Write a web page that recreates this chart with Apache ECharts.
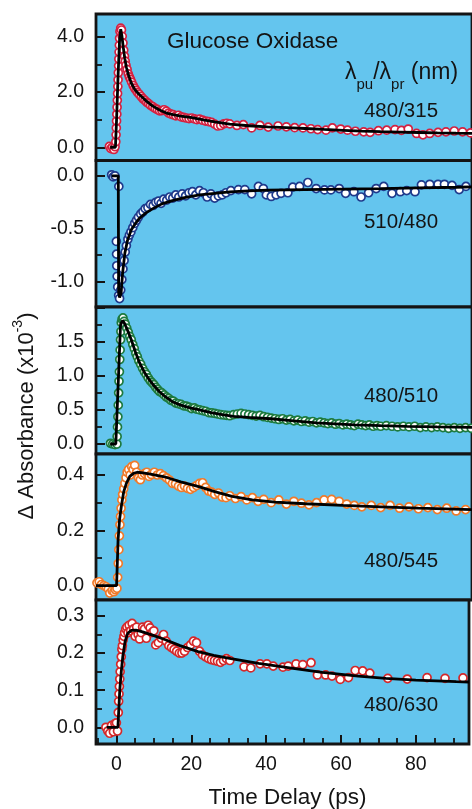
<!DOCTYPE html>
<html><head><meta charset="utf-8">
<script src="https://cdn.jsdelivr.net/npm/echarts@6/dist/echarts.min.js"></script>
<style>html,body{margin:0;padding:0;background:#fff}#c{width:472px;height:809px}</style>
</head><body><div id="c"></div><script>
// ---------- data (time in ps, ΔA in 1e-3) ----------
const X_LABELS = [0, 20, 40, 60, 80];
const Y_LABELS_1 = [0, 2, 4];
const Y_LABELS_2 = [0, -0.5, -1];
const Y_LABELS_3 = [0, 0.5, 1, 1.5];
const Y_LABELS_4 = [0, 0.2, 0.4];
const Y_LABELS_5 = [0, 0.1, 0.2, 0.3];
const TAGS = ['480/315', '510/480', '480/510', '480/545', '480/630'];

const data315 = [[-1.9,0.03],[-1.5,-0.05],[-1.1,0.0],[-0.7,-0.08],[-0.4,0.02],
[-0.2,0.2],[-0.13,0.45],[-0.06,0.7],[0,0.95],[0.07,1.2],[0.14,1.45],[0.2,1.7],[0.27,1.95],[0.34,2.2],[0.4,2.45],[0.47,2.7],[0.54,2.95],[0.6,3.2],[0.67,3.45],[0.74,3.7],[0.8,3.95],[0.9,4.2],
[1.1,4.32],[1.3,4.25],[1.5,4.02],[1.7,3.78],[1.9,3.52],[2.1,3.3],[2.3,3.12],[2.5,2.97],[2.8,2.82],[3.1,2.66],[3.4,2.55],[3.7,2.46],[4.0,2.36],[4.4,2.24],[4.8,2.14],[5.2,2.06],[5.6,1.98],[6.0,1.92],[6.5,1.84],[7.0,1.76],[7.5,1.7],[8.0,1.63],[8.5,1.58],[9.0,1.52],[9.6,1.47],[10.2,1.41],[10.8,1.37],[11.4,1.32],[12.0,1.33],[12.6,1.36],[13.2,1.31],[13.8,1.24],[14.4,1.2],[15.0,1.18],[15.7,1.14],[16.4,1.16],[17.1,1.1],[17.8,1.08],[18.5,1.06],[19.2,1.04],[19.9,1.06],[20.6,1.03],[21.3,1.0],[22.0,1.02],[22.8,0.98],[23.6,0.95],[24.4,0.93],[25.2,0.9],[26.0,0.84],[26.8,0.77],[27.6,0.79],[28.4,0.85],[29.2,0.87],
[30.0,0.85],[31.9,0.79],[33.6,0.82],[35.8,0.7],[38.0,0.79],[40.2,0.73],[42.8,0.77],[45.0,0.74],[47.2,0.71],[49.4,0.7],[51.5,0.67],[53.3,0.64],[55.5,0.62],[57.2,0.7],[59.4,0.66],[61.2,0.62],[63.3,0.58],[65.5,0.56],[67.2,0.54],[69.4,0.6],[71.6,0.62],[73.8,0.64],[75.5,0.61],[77.3,0.66],[79.5,0.5],[81.2,0.45],[83.0,0.5],[85.2,0.54],[87.3,0.56],[89.5,0.59],[91.7,0.56],[93.8,0.52]];
const fit315 = [[-1.7,0],[-0.3,0],[0.0,1.0],[0.4,2.6],[0.8,3.9],[1.1,4.28],[1.4,4.05],[1.8,3.6],[2.2,3.2],[2.6,2.9],[3.2,2.6],[3.9,2.33],[4.8,2.1],[5.8,1.94],[6.9,1.8],[8.0,1.66],[9.5,1.5],[11.4,1.35],[13.2,1.24],[15.0,1.18],[17.0,1.13],[20.0,1.07],[23.0,0.99],[26.0,0.92],[30.0,0.84],[35.0,0.78],[40.0,0.74],[45.0,0.71],[50.0,0.68],[55.0,0.645],[60.0,0.615],[65.0,0.585],[70.0,0.565],[75.0,0.55],[80.0,0.535],[85.0,0.52],[90.0,0.51],[94.2,0.505]];

const data480 = [[-1.3,0.01],[-0.9,-0.01],[-0.4,0.0],[0.6,-0.1],
[-0.05,-0.62],[0.0,-0.74],[0.05,-0.85],[0.15,-0.95],[0.3,-1.05],[0.55,-1.13],[0.8,-1.16],
[1.1,-1.08],[1.4,-0.98],[1.7,-0.88],[2.0,-0.8],[2.3,-0.72],[2.6,-0.66],[3.0,-0.6],[3.4,-0.56],[3.8,-0.53],[4.3,-0.49],[4.8,-0.45],[5.3,-0.42],[5.8,-0.39],[6.4,-0.36],[7.0,-0.34],[7.6,-0.31],[8.3,-0.3],[9.0,-0.27],[9.7,-0.28],[10.4,-0.25],[11.1,-0.24],[11.8,-0.26],[12.5,-0.22],[13.3,-0.23],[14.1,-0.2],[14.9,-0.21],[15.7,-0.18],[16.5,-0.2],[17.4,-0.17],[18.3,-0.19],[19.2,-0.16],[20.1,-0.15],[21.0,-0.18],[22.0,-0.14],[23.0,-0.16],[24.0,-0.2],[25.0,-0.17],[26.0,-0.21],[27.0,-0.19],[28.0,-0.18],[29.0,-0.16],[30.3,-0.14],
[32.3,-0.13],[34.0,-0.13],[35.8,-0.17],[37.6,-0.1],[38.9,-0.12],[39.7,-0.18],[41.0,-0.195],[42.3,-0.18],[43.6,-0.165],[45.4,-0.16],[46.7,-0.107],[48.5,-0.1],[50.7,-0.063],[52.9,-0.12],[55.1,-0.133],[56.8,-0.133],[59.0,-0.12],[60.7,-0.165],[62.9,-0.15],[64.8,-0.2],[66.8,-0.16],[68.8,-0.12],[70.8,-0.1],[73.0,-0.165],[75.2,-0.15],[76.9,-0.14],[79.1,-0.15],[80.8,-0.085],[83.0,-0.08],[85.2,-0.08],[86.9,-0.08],[88.9,-0.09],[90.8,-0.13],[92.6,-0.1]];
const fit480 = [[-1.3,0],[0.45,0],[0.55,-1.1],[0.8,-1.15],[1.2,-1.11],[1.6,-0.92],[2.2,-0.73],[2.9,-0.61],[3.9,-0.51],[5.0,-0.45],[6.1,-0.4],[7.8,-0.35],[9.6,-0.31],[12.0,-0.265],[14.8,-0.235],[18.0,-0.205],[22.0,-0.18],[26.0,-0.165],[30.0,-0.152],[35.0,-0.142],[40.0,-0.136],[50.0,-0.13],[60.0,-0.125],[70.0,-0.12],[80.0,-0.114],[90.0,-0.108],[94.2,-0.105]];

const data510 = [[-1.6,0.01],[-1.0,0.0],[-0.4,-0.01],[0.1,0.0],
[0.15,0.11],[0.25,0.25],[0.35,0.4],[0.45,0.57],[0.55,0.75],[0.65,0.92],[0.75,1.06],[0.85,1.24],[0.95,1.38],[1.05,1.53],[1.15,1.65],[1.25,1.78],
[1.45,1.83],[1.7,1.85],[2.0,1.8],
[2.3,1.76],[2.7,1.7],[3.1,1.64],[3.5,1.58],[3.9,1.53],[4.3,1.46],[4.7,1.4],[5.1,1.33],[5.5,1.28],[5.9,1.22],[6.4,1.17],[6.9,1.11],[7.4,1.06],[7.9,1.02],[8.4,0.97],[8.9,0.93],[9.4,0.9],[9.9,0.87],[10.4,0.83],[10.9,0.8],[11.4,0.77],[12.0,0.75],[12.6,0.72],[13.2,0.69],[13.8,0.67],[14.4,0.64],[15.0,0.63],[15.7,0.6],[16.4,0.59],[17.1,0.58],[17.8,0.56],[18.5,0.555],[19.2,0.54],[19.9,0.52],[20.6,0.53],[21.3,0.51],[22.0,0.5],[22.8,0.49],[23.6,0.48],[24.4,0.46],[25.2,0.455],[26.0,0.45],[26.8,0.44],[27.6,0.43],[28.4,0.425],[29.2,0.42],[30.0,0.415],
[31.0,0.43],[32.0,0.44],[33.0,0.45],[34.0,0.44],[35.0,0.43],[36.0,0.42],[37.0,0.41],[38.0,0.42],[39.0,0.4],[40.0,0.39],[41.0,0.38],[42.0,0.37],[43.0,0.36],[44.0,0.37],[45.0,0.35],[46.0,0.36],[47.0,0.34],[48.0,0.35],[49.0,0.33],[50.0,0.34],[51.0,0.32],[52.0,0.33],[53.0,0.31],[54.0,0.32],[55.0,0.31],[56.0,0.3],[57.0,0.31],[58.0,0.29],[59.0,0.3],[60.0,0.28],[61.0,0.29],[62.0,0.28],[63.0,0.27],[64.0,0.29],[65.0,0.28],[66.0,0.27],[67.0,0.28],[68.0,0.26],[69.0,0.27],[70.0,0.26],[71.5,0.27],[73.0,0.26],[74.5,0.25],[76.0,0.26],[77.5,0.25],[79.0,0.26],[80.5,0.24],[82.0,0.25],[83.5,0.24],[85.0,0.25],[86.5,0.24],[88.0,0.23],[89.5,0.24],[91.0,0.23],[92.5,0.24],[94.0,0.23]];
const fit510 = [[-1.7,0],[-0.2,0],[1.05,1.75],[1.6,1.81],[2.0,1.78],[2.5,1.72],[3.2,1.63],[3.9,1.53],[5.0,1.35],[6.1,1.19],[7.4,1.05],[8.7,0.94],[10.0,0.85],[11.3,0.77],[13.0,0.69],[14.8,0.62],[17.0,0.57],[19.5,0.53],[22.0,0.5],[25.0,0.46],[28.0,0.43],[31.0,0.405],[35.0,0.39],[41.0,0.37],[47.0,0.34],[53.0,0.31],[58.0,0.295],[63.0,0.28],[70.0,0.268],[77.0,0.258],[85.0,0.25],[94.2,0.243]];

const data545 = [[-5.2,0.01],[-4.6,0.014],[-4.0,0.004],[-3.4,0.0],[-2.8,-0.004],[-2.2,-0.012],[-1.8,-0.027],[-1.2,-0.018],[-0.7,-0.022],[-0.3,-0.015],[0.1,-0.01],
[0.3,0.03],[0.45,0.08],[0.6,0.13],[0.75,0.18],[0.9,0.22],[1.05,0.25],[1.2,0.28],[1.4,0.31],[1.6,0.33],[1.9,0.35],[2.2,0.37],[2.5,0.39],[2.8,0.41],[3.2,0.42],[3.6,0.4],[4.0,0.43],[4.4,0.42],[4.8,0.435],[5.3,0.41],[5.8,0.39],[6.3,0.383],[6.8,0.4],[7.4,0.405],[8.0,0.41],[8.6,0.395],[9.2,0.402],[10.0,0.41],[10.8,0.4],[11.6,0.405],[12.4,0.398],[13.2,0.39],[14.0,0.382],[14.8,0.37],[15.6,0.368],[16.4,0.36],[17.2,0.355],[18.0,0.36],[18.8,0.352],[19.6,0.348],[20.4,0.355],[21.2,0.362],[22.0,0.37],[22.8,0.372],[23.6,0.355],[24.4,0.342],[25.2,0.338],[26.0,0.33],[27.0,0.335],[28.0,0.32],[29.0,0.318],[30.0,0.325],
[31.5,0.315],[33.0,0.322],[34.5,0.31],[36.0,0.318],[37.5,0.305],[39.0,0.312],[41.0,0.3],[43.0,0.31],[45.0,0.295],[47.0,0.305],[49.0,0.298],[51.0,0.292],[53.0,0.3],[55.0,0.31],[57.0,0.312],[59.0,0.305],[61.0,0.295],[63.0,0.29],[65.0,0.285],[67.5,0.29],[70.0,0.282],[72.5,0.29],[75.0,0.28],[77.5,0.285],[80.0,0.278],[82.5,0.282],[85.0,0.275],[87.5,0.28],[90.0,0.27],[92.5,0.275]];
const fit545 = [[-5.45,0],[0.0,0],[0.2,0.08],[0.4,0.165],[0.8,0.24],[1.3,0.29],[1.9,0.34],[2.6,0.37],[3.5,0.395],[4.5,0.406],[5.5,0.41],[7.0,0.408],[9.0,0.403],[11.0,0.398],[13.1,0.392],[17.0,0.375],[21.8,0.358],[26.0,0.34],[30.6,0.323],[36.0,0.31],[42.0,0.302],[50.0,0.296],[60.0,0.29],[70.0,0.285],[80.0,0.28],[94.2,0.275]];

const data630 = [[-2.8,0.0],[-2.3,-0.01],[-1.8,-0.016],[-1.3,0.005],[-0.8,-0.012],[-0.4,0.01],[0.0,0.012],[0.3,-0.01],
[0.5,0.04],[0.6,0.07],[0.7,0.09],[0.8,0.11],[0.9,0.13],[1.0,0.15],[1.15,0.17],[1.3,0.19],[1.45,0.21],[1.6,0.22],[1.8,0.235],[2.0,0.245],[2.2,0.255],[2.5,0.265],[2.8,0.27],[3.1,0.255],[3.4,0.275],[3.8,0.26],[4.2,0.28],[4.6,0.265],[5.0,0.245],[5.4,0.27],[5.8,0.25],[6.2,0.238],[6.6,0.255],[7.0,0.27],[7.5,0.265],[8.0,0.24],[8.5,0.275],[9.0,0.268],[9.5,0.255],[10.0,0.26],[10.5,0.222],[11.2,0.228],[12.0,0.24],[12.6,0.25],[13.3,0.232],[14.0,0.22],[14.7,0.215],[15.4,0.21],[16.1,0.205],[16.8,0.2],[17.5,0.2],[18.2,0.205],[19.0,0.215],[19.8,0.222],[20.6,0.232],[21.4,0.228],[22.2,0.205],[23.0,0.195],[23.8,0.19],[24.6,0.185],[25.4,0.182],[26.2,0.18],[27.0,0.178],[27.8,0.175],[28.6,0.18],[29.4,0.185],
[30.3,0.18],[34.1,0.163],[35.9,0.16],[38.4,0.171],[40.2,0.171],[41.9,0.165],[44.5,0.162],[45.9,0.165],[48.0,0.171],[49.8,0.169],[52.0,0.174],[53.7,0.141],[55.9,0.141],[57.6,0.138],[59.8,0.129],[62.0,0.134],[63.8,0.153],[65.8,0.152],[67.7,0.146],[72.5,0.132],[77.7,0.13],[83.0,0.134],[87.8,0.132],[92.6,0.133]];
const fit630 = [[-2.6,0],[0.4,0],[0.9,0.1],[1.3,0.15],[1.7,0.19],[2.3,0.23],[3.0,0.253],[4.0,0.261],[5.2,0.262],[7.0,0.257],[10.0,0.247],[13.1,0.236],[17.0,0.22],[21.8,0.204],[26.0,0.194],[30.6,0.185],[38.0,0.172],[47.2,0.159],[55.0,0.148],[64.6,0.138],[72.0,0.132],[80.0,0.127],[90.8,0.123],[94.2,0.122]];

// ---------- layout / style ----------
const FONT = '"Liberation Sans", Arial, Helvetica, sans-serif';
const BG = '#64C5EE';
const INK = '#141414';
const panels = [
  {data: data315, fit: fit315, color: '#D42140', min: -0.48, max: 4.83, split: 3, labels: Y_LABELS_1, top: 14, h: 146.5, tagY: 111},
  {data: data480, fit: fit480, color: '#1E3A8C', min: -1.24, max: 0.145, split: 3, labels: Y_LABELS_2, top: 160.5, h: 146.5, tagY: 222},
  {data: data510, fit: fit510, color: '#1D7A3E', min: -0.147, max: 2.01, split: 4, labels: Y_LABELS_3, top: 307, h: 147, tagY: 396},
  {data: data545, fit: fit545, color: '#F07A2A', min: -0.052, max: 0.476, split: 3, labels: Y_LABELS_4, top: 454, h: 146, tagY: 561},
  {data: data630, fit: fit630, color: '#D4282A', min: -0.045, max: 0.343, split: 4, labels: Y_LABELS_5, top: 600, h: 144, tagY: 705.5}
];

const grids = [], xAxes = [], yAxes = [], series = [], graphics = [];
const near = (list, v) => list.some(l => Math.abs(l - v) < 1e-6);
panels.forEach((p, i) => {
  const last = i === panels.length - 1;
  grids.push({left: 96, right: -4, top: p.top, height: p.h, show: true, backgroundColor: BG, borderColor: INK, borderWidth: 2.8});
  xAxes.push({type: 'value', gridIndex: i, min: -5.45, max: 94.2, splitNumber: 5, position: 'bottom',
    axisLine: {show: false, onZero: false}, splitLine: {show: false},
    axisTick: {show: last, inside: true, length: 9, lineStyle: {color: INK, width: 2}},
    minorTick: {show: last, splitNumber: 4, length: 6, lineStyle: {color: INK, width: 1.8}},
    axisLabel: {show: last, margin: 11, fontSize: 19.5, color: INK, fontFamily: FONT,
      formatter: v => near(X_LABELS, v) ? String(Math.round(v)) : ''}});
  yAxes.push({type: 'value', gridIndex: i, min: p.min, max: p.max, splitNumber: p.split, position: 'left',
    axisLine: {show: false, onZero: false}, splitLine: {show: false},
    axisTick: {inside: true, length: 9, lineStyle: {color: INK, width: 2}},
    minorTick: {show: true, splitNumber: 2, length: 6, lineStyle: {color: INK, width: 1.8}},
    axisLabel: {margin: 12, fontSize: 19.5, color: INK, fontFamily: FONT,
      formatter: v => near(p.labels, v) ? v.toFixed(1) : ''}});
  series.push({type: 'scatter', xAxisIndex: i, yAxisIndex: i, data: p.data, symbol: 'circle', symbolSize: 8,
    itemStyle: {color: '#fff', borderColor: p.color, borderWidth: 1.7, opacity: 1}, z: 2, silent: true});
  series.push({type: 'line', xAxisIndex: i, yAxisIndex: i, data: p.fit, showSymbol: false, symbol: 'none',
    lineStyle: {color: '#000', width: 2.8}, z: 3, silent: true});
  graphics.push({type: 'text', x: 401, y: p.tagY, z: 10,
    style: {text: TAGS[i], font: '20.5px ' + FONT, fill: INK, align: 'center', verticalAlign: 'middle'}});
});

// text pieces with sub/superscripts laid out by measured widths
const mctx = document.createElement('canvas').getContext('2d');
function tw(text, size) { mctx.font = size + 'px ' + FONT; return mctx.measureText(text).width; }
function pieces(list, centered) {
  const total = list.reduce((s, [t, sz]) => s + tw(t, sz), 0);
  let x = centered ? -total / 2 : 0;
  return list.map(([t, sz, dy]) => {
    const el = {type: 'text', x: x, y: dy, style: {text: t, font: sz + 'px ' + FONT, fill: INK, align: 'left', verticalAlign: 'middle'}};
    x += tw(t, sz);
    return el;
  });
}

graphics.push({type: 'text', x: 167, y: 41.5, z: 10,
  style: {text: 'Glucose Oxidase', font: '22.5px ' + FONT, fill: INK, align: 'left', verticalAlign: 'middle'}});
graphics.push({type: 'group', x: 345, y: 73, z: 10,
  children: pieces([['λ', 23, 0], ['pu', 15, 11.5], ['/λ', 23, 0], ['pr', 15, 11.5], [' (nm)', 23, 0]], false)});
graphics.push({type: 'group', x: 27, y: 416, rotation: Math.PI / 2, z: 10,
  children: pieces([['Δ Absorbance (x10', 22, 0], ['-3', 14, -9], [')', 22, 0]], true)});
graphics.push({type: 'text', x: 287.5, y: 798, z: 10,
  style: {text: 'Time Delay (ps)', font: '22.5px ' + FONT, fill: INK, align: 'center', verticalAlign: 'middle'}});

const chart = echarts.init(document.getElementById('c'), null, {renderer: 'canvas'});
chart.setOption({
  animation: false,
  backgroundColor: '#ffffff',
  grid: grids, xAxis: xAxes, yAxis: yAxes, series: series, graphic: graphics
});
</script></body></html>
